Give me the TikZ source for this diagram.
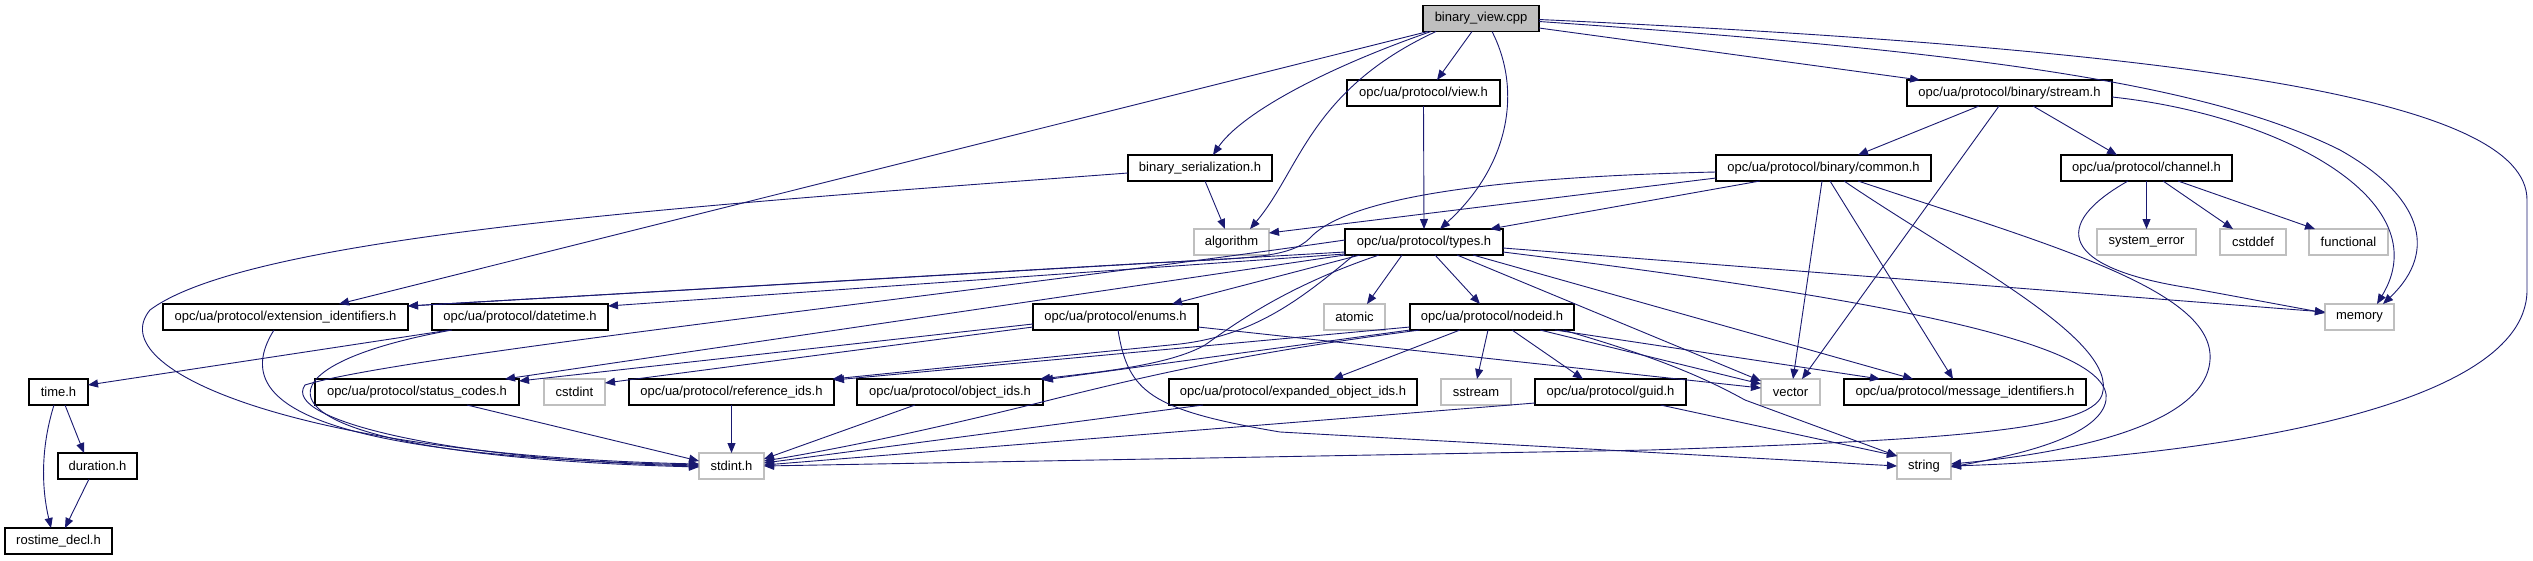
\documentclass[tikz,border=0pt]{standalone}
\usepackage{fontspec}
\setmainfont{Liberation Sans}
\usetikzlibrary{arrows.meta,calc}
\definecolor{edgec}{HTML}{191970}
\definecolor{sysc}{HTML}{BFBFBF}
\begin{document}
\begin{tikzpicture}[x=1pt,y=-1pt,
  hdr/.style={draw=black, line width=1.1pt, fill=white, minimum height=26pt, inner sep=0pt, font=\fontsize{13}{15}\selectfont, anchor=center},
  sys/.style={hdr, draw=sysc},
  root/.style={hdr, fill=sysc},
  e/.style={draw=edgec, line width=0.9pt, -{Triangle[length=10pt,width=8pt]}},
]
\useasboundingbox[fill=white] (0,0) rectangle (2533,560);
% row 0
\node[root, minimum width=116pt] (bv) at (1481,18.5) {binary\_view.cpp};
% row 1
\node[hdr, minimum width=153pt] (view) at (1423.5,93) {opc/ua/protocol/view.h};
\node[hdr, minimum width=205pt] (stream) at (2009.5,93) {opc/ua/protocol/binary/stream.h};
% row 2
\node[hdr, minimum width=144pt] (bser) at (1200,168) {binary\_serialization.h};
\node[hdr, minimum width=215pt] (common) at (1823.5,168) {opc/ua/protocol/binary/common.h};
\node[hdr, minimum width=171pt] (channel) at (2146.5,168) {opc/ua/protocol/channel.h};
% row 3
\node[sys, minimum width=75pt] (algorithm) at (1231.5,242) {algorithm};
\node[hdr, minimum width=158pt] (types) at (1424,242) {opc/ua/protocol/types.h};
\node[sys, minimum width=99pt] (syserr) at (2146.5,242) {system\_error};
\node[sys, minimum width=66pt] (cstddef) at (2253,242) {cstddef};
\node[sys, minimum width=79pt] (functional) at (2348.5,242) {functional};
% row 4
\node[hdr, minimum width=245pt] (extid) at (285.5,317) {opc/ua/protocol/extension\_identifiers.h};
\node[hdr, minimum width=176pt] (datetime) at (520,317) {opc/ua/protocol/datetime.h};
\node[hdr, minimum width=165pt] (enums) at (1115.5,317) {opc/ua/protocol/enums.h};
\node[sys, minimum width=61pt] (atomic) at (1354.5,317) {atomic};
\node[hdr, minimum width=164pt] (nodeid) at (1492,317) {opc/ua/protocol/nodeid.h};
\node[sys, minimum width=69pt] (memory) at (2359.5,317) {memory};
% row 5
\node[hdr, minimum width=59pt] (time) at (58.5,392) {time.h};
\node[hdr, minimum width=204pt] (status) at (417,392) {opc/ua/protocol/status\_codes.h};
\node[sys, minimum width=61pt] (cstdint) at (574.5,392) {cstdint};
\node[hdr, minimum width=205pt] (refids) at (731.5,392) {opc/ua/protocol/reference\_ids.h};
\node[hdr, minimum width=186pt] (objids) at (950,392) {opc/ua/protocol/object\_ids.h};
\node[hdr, minimum width=248pt] (expids) at (1293,392) {opc/ua/protocol/expanded\_object\_ids.h};
\node[sys, minimum width=70pt] (sstream) at (1476,392) {sstream};
\node[hdr, minimum width=151pt] (guid) at (1610.5,392) {opc/ua/protocol/guid.h};
\node[sys, minimum width=59pt] (vector) at (1790.5,392) {vector};
\node[hdr, minimum width=242pt] (msgids) at (1965,392) {opc/ua/protocol/message\_identifiers.h};
% row 6
\node[hdr, minimum width=79pt] (duration) at (97.5,466) {duration.h};
\node[sys, minimum width=65pt] (stdint) at (731.5,466) {stdint.h};
\node[sys, minimum width=54pt] (string) at (1924,466) {string};
% row 7
\node[hdr, minimum width=107pt] (rostime) at (58.5,541) {rostime\_decl.h};

% ---- edges from binary_view.cpp
\draw[e] ($(bv)+(-9,13)$) -- ($(view)+(13.5,-13)$);
\draw[e] ($(bv)+(11,13)$) .. controls (1522,90) and (1510,165) .. ($(types)+(16,-13)$);
\draw[e] ($(bv)+(-50,13)$) .. controls (1320,70) and (1240,115) .. ($(bser)+(13,-13)$);
\draw[e] ($(bv)+(-45,13)$) .. controls (1310,90) and (1300,170) .. ($(algorithm)+(18.5,-13)$);
\draw[e] ($(bv)+(-53,13)$) -- ($(extid)+(53.5,-13)$);
\draw[e] ($(bv)+(58,9.5)$) -- ($(stream)+(-89.5,-13)$);
\draw[e] ($(bv)+(58,3)$) .. controls (1950,50) and (2200,80) .. (2340,150) .. controls (2420,195) and (2440,250) .. ($(memory)+(23.5,-13)$);
\draw[e] ($(bv)+(58,1)$) .. controls (2200,50) and (2527,100) .. (2527,200) -- (2527,290) .. controls (2527,420) and (2150,460) .. ($(string)+(27,0)$);
% view
\draw[e] ($(view)+(0,13)$) -- ($(types)+(0,-13)$);
% stream
\draw[e] ($(stream)+(-30.5,13)$) -- ($(common)+(34.5,-13)$);
\draw[e] ($(stream)+(23.5,13)$) -- ($(channel)+(-29.5,-13)$);
\draw[e] ($(stream)+(-10.5,13)$) -- ($(vector)+(11.5,-13)$);
\draw[e] ($(stream)+(102.5,4)$) .. controls (2280,115) and (2440,200) .. ($(memory)+(17.5,-13)$);
% binary_serialization
\draw[e] ($(bser)+(5,13)$) -- ($(algorithm)+(-6.5,-13)$);
\draw[e] ($(bser)+(-72,5)$) .. controls (700,205) and (250,235) .. (150,310) .. controls (100,370) and (300,455) .. ($(stdint)+(-32.5,-2)$);
% common
\draw[e] ($(common)+(-63.5,13)$) -- ($(types)+(66,-13)$);
\draw[e] ($(common)+(-107.5,10)$) -- ($(algorithm)+(37.5,-9)$);
\draw[e] ($(common)+(-107.5,4)$) .. controls (1450,178) and (1340,205) .. (1310,238) .. controls (1290,258) and (1250,258) .. (1150,263) -- ($(extid)+(122.5,-11)$);
\draw[e] ($(common)+(-1.5,13)$) -- ($(vector)+(2.5,-13)$);
\draw[e] ($(common)+(6.5,13)$) -- ($(msgids)+(-12,-13)$);
\draw[e] ($(common)+(20.5,13)$) .. controls (1960,260) and (2120,340) .. (2102,395) .. controls (2090,430) and (1950,440) .. (1650,450) -- ($(stdint)+(32.5,0)$);
\draw[e] ($(common)+(34.5,13)$) .. controls (2050,245) and (2215,290) .. (2210,360) .. controls (2205,430) and (2050,455) .. ($(string)+(27,-2)$);
% channel
\draw[e] ($(channel)+(0,13)$) -- ($(syserr)+(0,-13)$);
\draw[e] ($(channel)+(16.5,13)$) -- ($(cstddef)+(-20,-13)$);
\draw[e] ($(channel)+(31.5,13)$) -- ($(functional)+(-33.5,-13)$);
\draw[e] ($(channel)+(-18.5,13)$) .. controls (2050,225) and (2060,268) .. (2190,288) -- ($(memory)+(-34.5,-4)$);
% types
\draw[e] ($(types)+(-79,10)$) -- ($(extid)+(122.5,-11)$);
\draw[e] ($(types)+(-79,12)$) -- ($(datetime)+(88,-11)$);
\draw[e] ($(types)+(-64,13)$) -- ($(enums)+(56.5,-13)$);
\draw[e] ($(types)+(-22,13)$) -- ($(atomic)+(12.5,-13)$);
\draw[e] ($(types)+(11,13)$) -- ($(nodeid)+(-12,-13)$);
\draw[e] ($(types)+(-79,13)$) -- ($(status)+(88,-13)$);
\draw[e] ($(types)+(-70,13)$) .. controls (1300,300) and (1255,335) .. (1180,344) -- ($(refids)+(101,-13)$);
\draw[e] ($(types)+(-45,13)$) .. controls (1290,285) and (1240,320) .. (1205,345) .. controls (1170,365) and (1100,372) .. ($(objids)+(90,-13)$);
\draw[e] ($(types)+(33,13)$) -- ($(vector)+(-29.5,-11)$);
\draw[e] ($(types)+(49,13)$) -- ($(msgids)+(-52,-13)$);
\draw[e] ($(types)+(79,6)$) -- ($(memory)+(-34.5,-5)$);
\draw[e] ($(types)+(79,10)$) .. controls (1850,295) and (2115,340) .. (2106,400) .. controls (2100,440) and (2000,458) .. ($(string)+(27,1)$);
\draw[e] ($(types)+(-79,-2)$) .. controls (1000,290) and (400,355) .. (305,385) .. controls (280,420) and (450,460) .. ($(stdint)+(-32.5,0)$);
% extension_identifiers, datetime
\draw[e] ($(extid)+(-11.5,13)$) .. controls (230,400) and (300,455) .. ($(stdint)+(-32.5,-1)$);
\draw[e] ($(datetime)+(-70,13)$) -- ($(time)+(29.5,-7)$);
\draw[e] ($(datetime)+(-68,13)$) .. controls (230,370) and (240,455) .. ($(stdint)+(-32.5,1)$);
% enums
\draw[e] ($(enums)+(-82.5,7)$) -- ($(status)+(102,-11)$);
\draw[e] ($(enums)+(-82.5,10)$) -- ($(cstdint)+(30.5,-9)$);
\draw[e] ($(enums)+(82.5,10)$) -- ($(vector)+(-29.5,-4)$);
\draw[e] ($(enums)+(2.5,13)$) .. controls (1128,392) and (1150,410) .. (1280,432) -- ($(string)+(-27,0)$);
% nodeid
\draw[e] ($(nodeid)+(-82,10)$) -- ($(refids)+(102.5,-12)$);
\draw[e] ($(nodeid)+(-82,13)$) -- ($(objids)+(93,-12)$);
\draw[e] ($(nodeid)+(-32,13)$) -- ($(expids)+(40,-13)$);
\draw[e] ($(nodeid)+(-4,13)$) -- ($(sstream)+(1,-13)$);
\draw[e] ($(nodeid)+(20,13)$) -- ($(guid)+(-27.5,-13)$);
\draw[e] ($(nodeid)+(48,13)$) -- ($(vector)+(-29.5,-8)$);
\draw[e] ($(nodeid)+(63,13)$) -- ($(msgids)+(-85,-13)$);
\draw[e] ($(nodeid)+(71,13)$) .. controls (1660,358) and (1705,378) .. (1745,400) -- ($(string)+(-27,-10)$);
\draw[e] ($(nodeid)+(-72,13)$) .. controls (1250,352) and (1150,375) .. (1050,400) .. controls (950,425) and (850,447) .. ($(stdint)+(32.5,-5)$);
% guid
\draw[e] ($(guid)+(-75.5,11)$) -- ($(stdint)+(32.5,-1)$);
\draw[e] ($(guid)+(50,13)$) -- ($(string)+(-27,-10)$);
% leaves to stdint
\draw[e] ($(status)+(50,13)$) -- ($(stdint)+(-32.5,-5)$);
\draw[e] ($(refids)+(0,13)$) -- ($(stdint)+(0,-13)$);
\draw[e] ($(objids)+(-35,13)$) -- ($(stdint)+(32.5,-7)$);
\draw[e] ($(expids)+(-90,13)$) -- ($(stdint)+(32.5,-3)$);
% time
\draw[e] ($(time)+(6.5,13)$) -- ($(duration)+(-13.5,-13)$);
\draw[e] ($(time)+(-4.5,13)$) .. controls (40,450) and (42,490) .. ($(rostime)+(-7.5,-13)$);
\draw[e] ($(duration)+(-8.5,13)$) -- ($(rostime)+(6.5,-13)$);
\end{tikzpicture}
\end{document}
